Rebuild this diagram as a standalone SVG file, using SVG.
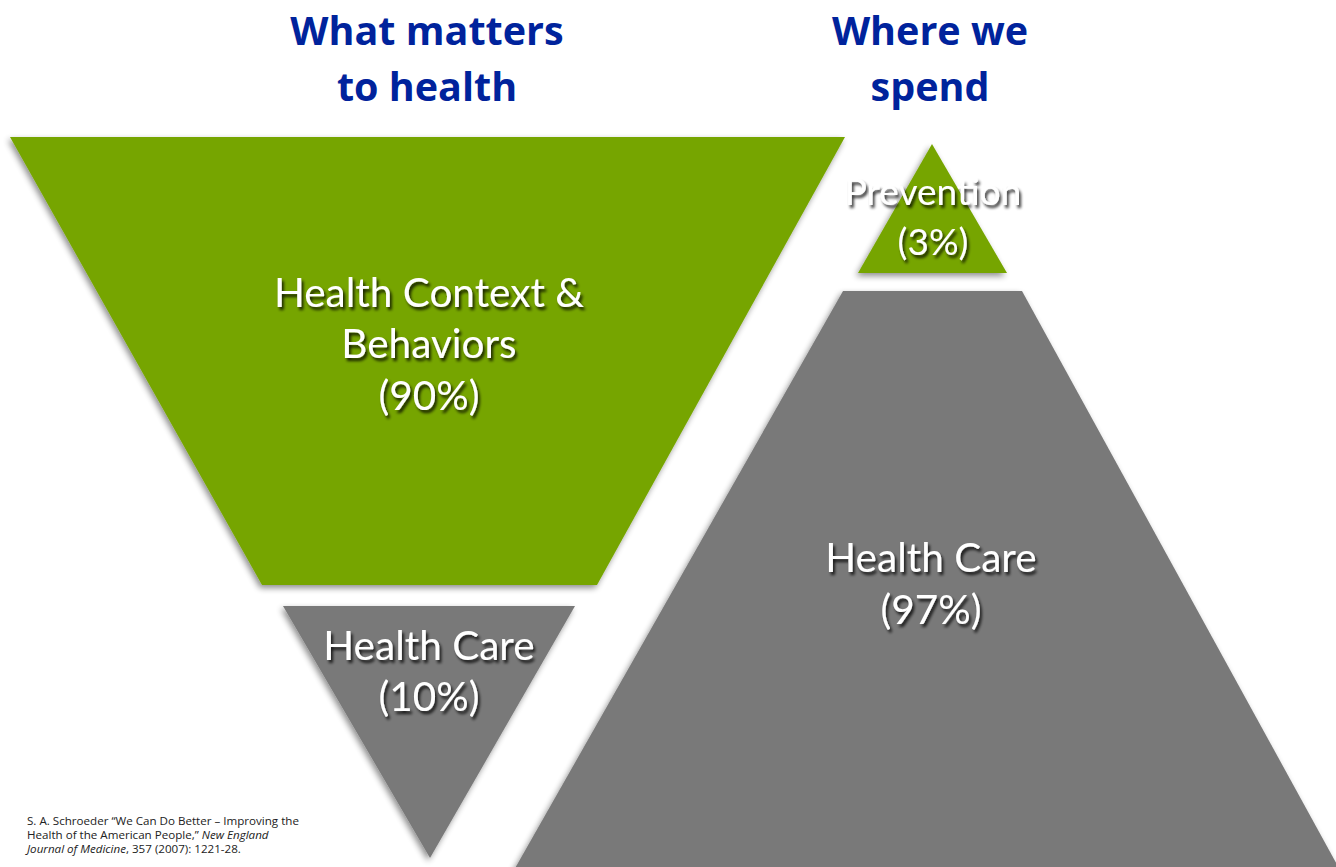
<svg xmlns="http://www.w3.org/2000/svg" width="1336" height="867" viewBox="0 0 1336 867">
<defs>
<filter id="sh" x="-10%" y="-10%" width="120%" height="120%">
<feGaussianBlur in="SourceAlpha" stdDeviation="3"/>
<feOffset dx="-2" dy="3" result="b"/>
<feComponentTransfer><feFuncA type="linear" slope="0.45"/></feComponentTransfer>
<feMerge><feMergeNode/><feMergeNode in="SourceGraphic"/></feMerge>
</filter>
<filter id="tsh" x="-10%" y="-20%" width="120%" height="150%">
<feGaussianBlur in="SourceAlpha" stdDeviation="1.5"/>
<feOffset dx="2" dy="3"/>
<feComponentTransfer><feFuncA type="linear" slope="0.8"/></feComponentTransfer>
<feMerge><feMergeNode/><feMergeNode in="SourceGraphic"/></feMerge>
</filter>
</defs>
<style>
.green{fill:#76a500}
.gray{fill:#797979}
.title{font-family:"Open Sans","Liberation Sans",sans-serif;font-weight:bold;font-size:39.5px;fill:#00239c;text-anchor:middle}
.lbl{font-family:"Lato","Liberation Sans",sans-serif;font-weight:400;font-size:40.5px;fill:#ffffff;text-anchor:middle}
.cite{font-family:"Open Sans","Liberation Sans",sans-serif;font-size:11.6px;fill:#222222}
</style>
<rect width="1336" height="867" fill="#ffffff"/>
<g id="title-left">
<text class="title" x="427" y="45">What matters</text>
<text class="title" x="427" y="101">to health</text>
</g>
<g id="title-right">
<text class="title" x="930" y="45">Where we</text>
<text class="title" x="930" y="101">spend</text>
</g>
<g id="health-context">
<polygon class="green" points="10,137 845,137 597,585 262,585" filter="url(#sh)"/>
<g filter="url(#tsh)">
<text class="lbl" x="429" y="307">Health Context &amp;</text>
<text class="lbl" x="429" y="358">Behaviors</text>
<text class="lbl" x="429" y="410">(90%)</text>
</g>
</g>
<g id="health-care-left">
<polygon class="gray" points="283,606 575,606 430,858" filter="url(#sh)"/>
<g filter="url(#tsh)">
<text class="lbl" x="429" y="660">Health Care</text>
<text class="lbl" x="429" y="711">(10%)</text>
</g>
</g>
<g id="prevention">
<polygon class="green" points="932,144 1007,273 858,273" filter="url(#sh)"/>
<g filter="url(#tsh)">
<text class="lbl" x="933" y="205" style="font-size:37px">Prevention</text>
<text class="lbl" x="933" y="255" style="font-size:37px">(3%)</text>
</g>
</g>
<g id="health-care-right">
<polygon class="gray" points="843,291 1022,291 1340,870 514,870" filter="url(#sh)"/>
<g filter="url(#tsh)">
<text class="lbl" x="931" y="572">Health Care</text>
<text class="lbl" x="931" y="624">(97%)</text>
</g>
</g>
<g id="connectors"/>
<g id="citation">
<text class="cite" x="27" y="825">S. A. Schroeder “We Can Do Better – Improving the</text>
<text class="cite" x="27" y="839">Health of the American People,” <tspan font-style="italic">New England</tspan></text>
<text class="cite" x="27" y="853"><tspan font-style="italic">Journal of Medicine</tspan>, 357 (2007): 1221-28.</text>
</g>
</svg>
